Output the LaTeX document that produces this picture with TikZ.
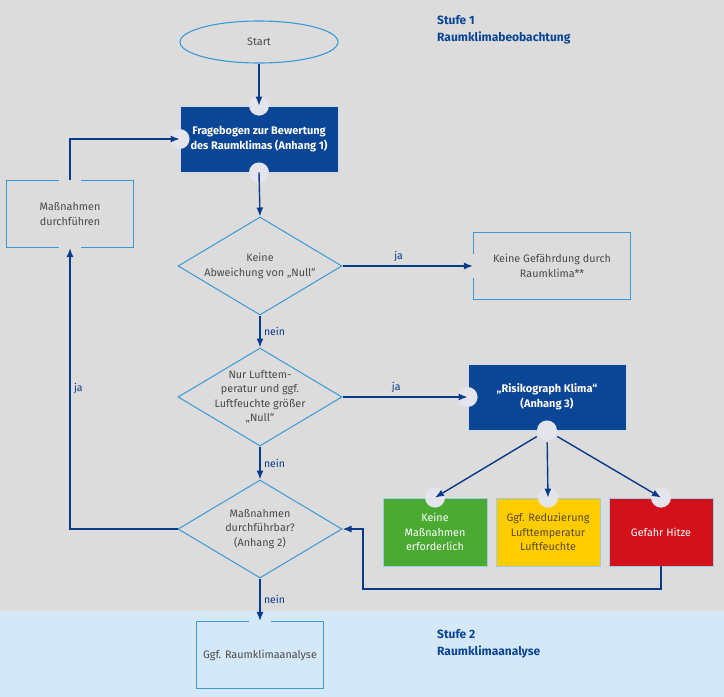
\documentclass[tikz,border=0pt]{standalone}
\usepackage{fontspec}
\setmainfont{Fira Sans}
\usetikzlibrary{shapes.geometric,arrows.meta}

\definecolor{bggray}{HTML}{DCDCDC}
\definecolor{bgblue}{HTML}{D5E8F8}
\definecolor{darkblue}{HTML}{0B4595}
\definecolor{arrowblue}{HTML}{0A3A8A}
\definecolor{lineblue}{HTML}{3A9AD6}
\definecolor{textgray}{HTML}{4A4A4A}
\definecolor{notchgray}{HTML}{E4E4EC}
\definecolor{okgreen}{HTML}{4AAA32}
\definecolor{warnyellow}{HTML}{FFCC00}
\definecolor{yellowtext}{HTML}{5A4A20}
\definecolor{hotred}{HTML}{D2111A}

\tikzset{
  every node/.style={font=\fontsize{10.8}{14.5}\selectfont},
  stage/.style={anchor=west, align=left, text=darkblue, inner sep=0pt,
    font=\fontsize{12}{17}\selectfont\bfseries},
  startshape/.style={ellipse, draw=lineblue, line width=1.1pt, text=textgray,
    minimum width=158pt, minimum height=42pt},
  darkbox/.style={fill=darkblue, draw=darkblue!20!white, line width=0.8pt,
    text=white, align=center, minimum width=158pt, minimum height=66pt,
    font=\fontsize{11}{14.5}\selectfont\bfseries},
  outbox/.style={draw=lineblue, line width=1.1pt, text=textgray, align=center,
    minimum width=127pt, minimum height=67pt},
  colorbox/.style={draw=lineblue!50!white, line width=0.8pt, align=center,
    minimum width=104pt, minimum height=68pt},
  decision/.style={diamond, draw=lineblue, line width=1pt, inner sep=0pt,
    minimum width=164pt, minimum height=98pt},
  dtext/.style={align=center, text=textgray},
  arrow/.style={draw=arrowblue, line width=1.4pt, -{Latex[length=9pt,width=7pt]}},
  answer/.style={text=arrowblue, font=\fontsize{10.5}{12}\selectfont},
  notch/.style={fill=notchgray},
  gap/.style={line width=2.5pt}
}

\begin{document}
\begin{tikzpicture}[x=1pt,y=-1pt]

% background
\fill[bggray] (0,0) rectangle (724,611);
\fill[bgblue] (0,611) rectangle (724,697);
\useasboundingbox (0,0) rectangle (724,697);

% stages
\node[stage] (stufe1) at (437,30) {Stufe 1\\Raumklimabeobachtung};
\node[stage] (stufe2) at (437,644) {Stufe 2\\Raumklimaanalyse};

% flow
\node[startshape] (start) at (259,42) {Start};
\node[darkbox] (frage) at (259,139) {Fragebogen zur Bewertung\\des Raumklimas (Anhang 1)};
\node[decision, label={[dtext]center:{Keine\\Abweichung von „Null“}}] (null) at (260,266) {};
\node[outbox, minimum width=157pt] (keine) at (552,266) {Keine Gefährdung durch\\Raumklima**};
\node[decision, label={[dtext]center:{Nur Lufttem-\\peratur und ggf.\\Luftfeuchte größer\\„Null“}}] (luft) at (260,397) {};
\node[darkbox] (risiko) at (547,397) {„Risikograph Klima“\\(Anhang 3)};
\node[decision, label={[dtext]center:{Maßnahmen\\durchführbar?\\(Anhang 2)}}] (durch) at (260,529) {};
\node[outbox] (mass) at (70,214) {Maßnahmen\\durchführen};
\node[outbox] (analyse) at (260,655) {Ggf. Raumklimaanalyse};

% risk classes
\node[colorbox, fill=okgreen, text=white] (gruen) at (435,532) {Keine\\Maßnahmen\\erforderlich};
\node[colorbox, fill=warnyellow, text=yellowtext] (gelb) at (548,532) {Ggf. Reduzierung\\Lufttemperatur\\Luftfeuchte};
\node[colorbox, fill=hotred, text=white] (rot) at (661,532) {Gefahr Hitze};

% notches and gaps
\foreach \p in {frage.north, frage.west, frage.south, risiko.west, risiko.south,
  gruen.north, gelb.north, rot.north}
  \fill[notch] (\p) circle (10pt);
\foreach \p in {mass.north, mass.south}
  \draw[gap, bggray] ([xshift=-11pt]\p) -- ([xshift=11pt]\p);
\draw[gap, bgblue] ([xshift=-11pt]analyse.north) -- ([xshift=11pt]analyse.north);
\draw[gap, bggray] ([yshift=-12pt]keine.west) -- ([yshift=12pt]keine.west);

% connectors
\draw[arrow] (start.south) -- (frage.north);
\draw[arrow] (frage.south) -- (null.north);
\draw[arrow] (null.east) -- node[answer, pos=0.43, above] {ja} (keine.west);
\draw[arrow] (null.south) -- node[answer, right] {nein} (luft.north);
\draw[arrow] (luft.east) -- node[answer, pos=0.43, above] {ja} (risiko.west);
\draw[arrow] (luft.south) -- node[answer, right] {nein} (durch.north);
\draw[arrow] (durch.south) -- node[answer, right] {nein} (analyse.north);
\draw[arrow] (durch.west) -| node[answer, pos=0.75, right] {ja} (mass.south);
\draw[arrow] (mass.north) |- (frage.west);
\foreach \b in {gruen, gelb, rot}
  \draw[arrow, shorten <=12pt] (risiko.south) -- (\b.north);

% back from Gefahr Hitze
\coordinate (knick) at (363,589);
\draw[arrow] (rot.south) |- (knick) |- (durch.east);

\end{tikzpicture}
\end{document}
